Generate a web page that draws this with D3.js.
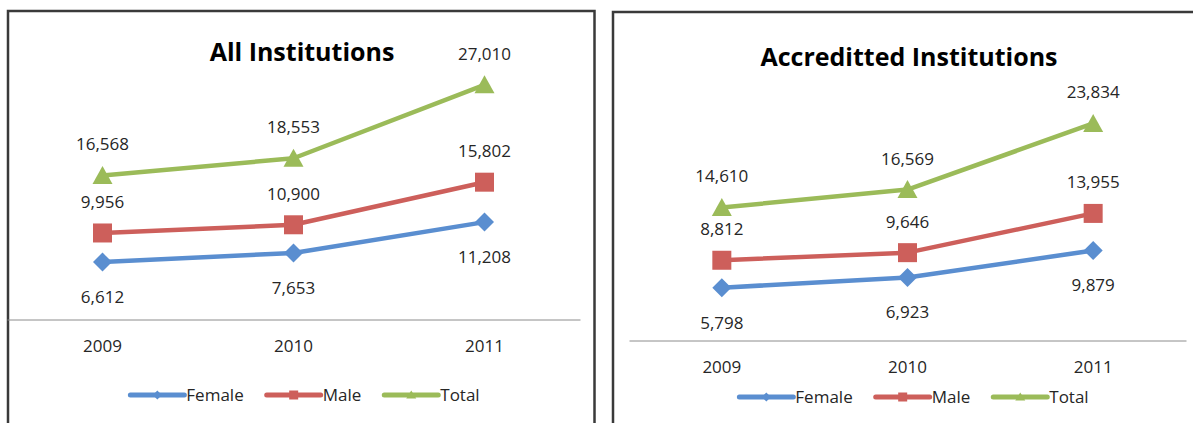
<!DOCTYPE html>
<html lang="en">
<head>
  <meta charset="UTF-8">
  <title>All vs Accredited Institutions</title>
  <script src="https://d3js.org/d3.v7.min.js"></script>
  <style>
    body { margin: 0; background: #fff; }
    svg text { font-family: 'Open Sans', sans-serif; }
    .title { font-weight: bold; fill: #000; }
    .lbl { fill: #262626; }
    .axis .domain { stroke: #8c8c8c; stroke-width: 1; }
    .axis text { fill: #262626; }
  </style>
</head>
<body>
<script>
  // data
  const years = ["2009", "2010", "2011"];
  const seriesNames = ["Female", "Male", "Total"];
  const allFemale = [6612, 7653, 11208];
  const allMale = [9956, 10900, 15802];
  const allTotal = [16568, 18553, 27010];
  const accFemale = [5798, 6923, 9879];
  const accMale = [8812, 9646, 13955];
  const accTotal = [14610, 16569, 23834];

  const colors = { Female: "#5a8ed0", Male: "#cd5f5b", Total: "#9bbb59" };
  // label offset from the point (centre of text)
  const labelDy = { Female: 35, Male: -31, Total: -31 };

  const svg = d3.select("body").append("svg")
    .attr("width", 1193).attr("height", 423);

  function markerPath(name, s) {
    const h = s / 2;
    if (name === "Female") return `M0,${-h}L${h},0L0,${h}L${-h},0Z`;
    if (name === "Male") return `M${-h},${-h}H${h}V${h}H${-h}Z`;
    return `M0,${-h}L${h + 0.5},${h - 1}H${-h - 0.5}Z`;
  }

  function drawChart(cfg, series) {
    const g = svg.append("g");

    // chart frame
    g.append("rect")
      .attr("x", cfg.frame[0]).attr("y", cfg.frame[1])
      .attr("width", cfg.frame[2]).attr("height", cfg.frame[3])
      .attr("fill", "none").attr("stroke", "#3a3a3a").attr("stroke-width", 2.5);

    g.append("text").attr("class", "title")
      .attr("x", cfg.titleX).attr("y", cfg.titleY)
      .attr("text-anchor", "middle")
      .style("font-size", "25px")
      .text(cfg.title);

    const x = d3.scaleBand().domain(years).range(cfg.xRange);
    const y = d3.scaleLinear().domain([0, 30000]).range(cfg.yRange);
    const cx = d => x(d) + x.bandwidth() / 2;

    g.append("g").attr("class", "axis")
      .attr("transform", `translate(0,${cfg.yRange[0]})`)
      .call(d3.axisBottom(x).tickSize(0).tickPadding(20))
      .call(a => a.selectAll("text").style("font-size", "17px").style("font-family", "'Open Sans', sans-serif"));

    const line = d3.line().x(d => cx(d.year)).y(d => y(d.v));

    seriesNames.forEach((name, si) => {
      const pts = years.map((yr, i) => ({ year: yr, v: series[si][i] }));
      g.append("path").datum(pts)
        .attr("d", line)
        .attr("fill", "none")
        .attr("stroke", colors[name])
        .attr("stroke-width", 4.5)
        .attr("stroke-linejoin", "round");

      g.selectAll(null).data(pts).join("path")
        .attr("transform", d => `translate(${cx(d.year)},${y(d.v)})`)
        .attr("d", markerPath(name, 19))
        .attr("fill", colors[name]);

      g.selectAll(null).data(pts).join("text")
        .attr("class", "lbl")
        .attr("x", d => cx(d.year))
        .attr("y", d => y(d.v) + labelDy[name])
        .attr("dy", "0.35em")
        .attr("text-anchor", "middle")
        .style("font-size", "17px")
        .text(d => d3.format(",")(d.v));
    });

    // legend, centred under the plot
    const leg = g.append("g");
    let lx = 0;
    seriesNames.forEach(name => {
      const it = leg.append("g").attr("transform", `translate(${lx},0)`);
      it.append("line").attr("x1", 0).attr("x2", 54)
        .attr("stroke", colors[name]).attr("stroke-width", 5)
        .attr("stroke-linecap", "round");
      it.append("path").attr("transform", "translate(27,0)")
        .attr("d", markerPath(name, 9)).attr("fill", colors[name]);
      const t = it.append("text").attr("class", "lbl")
        .attr("x", 56).attr("dy", "0.35em")
        .style("font-size", "17px").text(name);
      lx += 56 + t.node().getComputedTextLength() + 23;
    });
    const lw = lx - 23;
    leg.attr("transform", `translate(${cfg.legendCx - lw / 2},${cfg.legendY})`);
  }

  drawChart({
    frame: [8, 11, 586.5, 430],
    title: "All Institutions", titleX: 302, titleY: 61,
    xRange: [7, 580], yRange: [319.5, 58.8],
    legendCx: 305, legendY: 395
  }, [allFemale, allMale, allTotal]);

  drawChart({
    frame: [613, 12, 600, 430],
    title: "Accreditted Institutions", titleX: 909, titleY: 66,
    xRange: [629, 1186], yRange: [340.5, 67.3],
    legendCx: 914, legendY: 397
  }, [accFemale, accMale, accTotal]);
</script>
</body>
</html>
